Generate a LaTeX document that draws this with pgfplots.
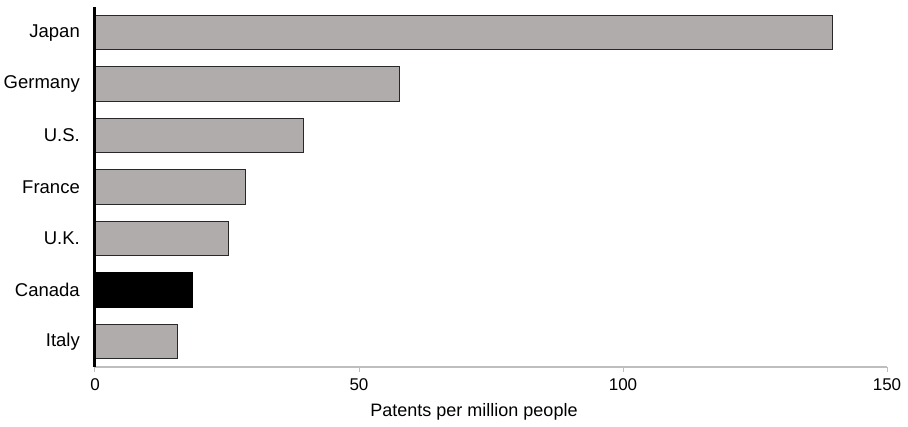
\documentclass[border=0pt]{standalone}
\usepackage{pgfplots}
\pgfplotsset{compat=1.18}
\usepackage{fontspec}
\setmainfont{Liberation Sans}
\definecolor{bargray}{RGB}{176,172,171}
\definecolor{axgray}{RGB}{190,190,190}
\definecolor{edgec}{RGB}{40,40,40}
\begin{document}
\fontsize{18}{21}\selectfont
\begin{tikzpicture}
\begin{axis}[
  scale only axis, width=792pt, height=360pt,
  xmin=0, xmax=150, ymin=-0.5, ymax=6.5,
  xbar, bar width=34.5pt, bar shift=0pt,
  axis on top,
  axis x line*=bottom, axis y line*=left,
  x axis line style={axgray, line width=1.3pt},
  y axis line style={black, line width=3pt},
  xtick={0,50,100,150},
  ytick={0,1,2,3,4,5,6},
  yticklabels={Italy,Canada,U.K.,France,U.S.,Germany,Japan},
  x tick style={axgray, line width=1pt},
  y tick style={draw=none},
  major tick length=5pt,
  tick align=outside,
  xtick pos=bottom,
  /pgf/number format/assume math mode=true,
  xticklabel style={font=\fontsize{17}{20}\selectfont, text=black},
  yticklabel style={font=\fontsize{18.5}{21}\selectfont, text=black, anchor=east, inner sep=0pt, xshift=-10pt},
  xlabel={Patents per million people},
  xlabel style={at={(rel axis cs:0.5,0)}, anchor=base, yshift=-50pt, xshift=-17pt, font=\fontsize{18}{21}\selectfont},
]
\addplot[fill=bargray, draw=edgec, line width=1pt] coordinates {
  (15.6,0) (25.3,2) (28.5,3) (39.4,4) (57.7,5) (139.6,6)
};
\addplot[fill=black, draw=black, line width=1pt] coordinates {
  (18.5,1)
};
\end{axis}
\path ([shift={(-95pt,-55pt)}]current axis.south west) rectangle ([shift={(21pt,7pt)}]current axis.north east);
\end{tikzpicture}
\end{document}
